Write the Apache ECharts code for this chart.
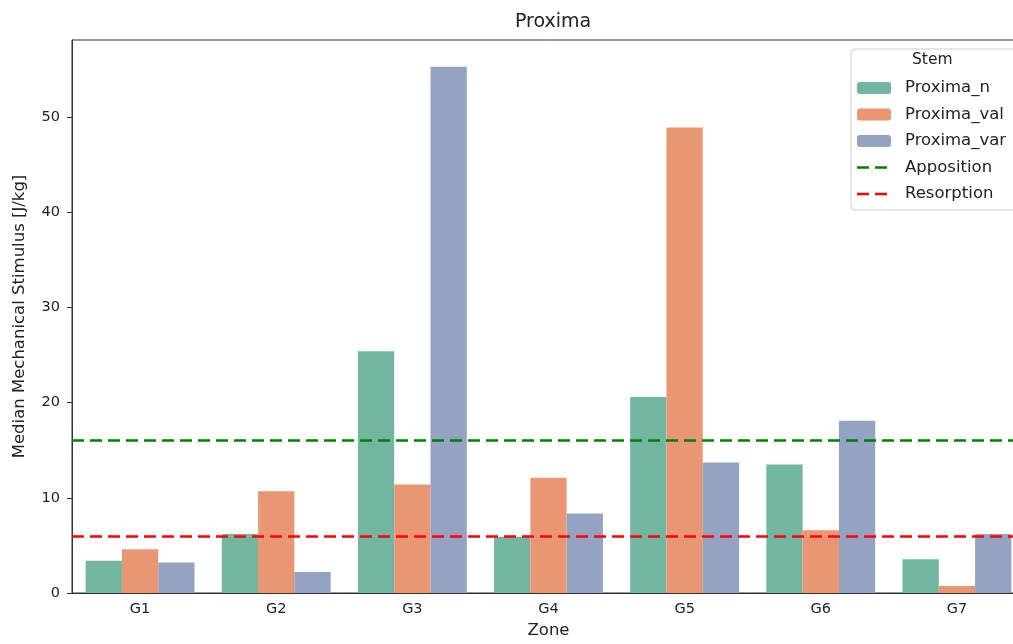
<!DOCTYPE html>
<html><head><meta charset="utf-8">
<script src="https://cdn.jsdelivr.net/npm/echarts@6/dist/echarts.min.js"></script>
<style>html,body{margin:0;padding:0;background:#fff;overflow:hidden;width:1013px;height:644px}#c{width:1025px;height:644px}</style>
</head><body><div id="c"></div>
<script>
const categories = ['G1','G2','G3','G4','G5','G6','G7'];
const proximaN   = [3.4, 6.2, 25.4, 5.9, 20.6, 13.5, 3.55];
const proximaVal = [4.6, 10.7, 11.4, 12.1, 48.9, 6.6, 0.73];
const proximaVar = [3.2, 2.2, 55.3, 8.35, 13.7, 18.1, 6.2];
const apposition = 16;
const resorption = 6;
const yTicks = [0, 10, 20, 30, 40, 50];
const noPoints = [null, null, null, null, null, null, null];

const font = 'DejaVu Sans';
const chart = echarts.init(document.getElementById('c'));
const barColors = ['#72b6a1', '#e99675', '#95a3c3'];
const dashIcon = 'path://M0,0h0.01v0.01h-0.01z M33.99,11.99h0.01v0.01h-0.01z M0,4.7h12v2.6h-12z M18,4.7h12v2.6h-12z';
function bar(name, data, color) {
  return { type: 'bar', name, data, barGap: '0%', barCategoryGap: '20%',
    itemStyle: { color }, silent: true };
}
function hline(name, value, color) {
  return { type: 'line', name, data: noPoints, symbol: 'none', showSymbol: false,
    lineStyle: { color, type: [12, 6], width: 2.5 }, itemStyle: { color },
    markLine: { symbol: 'none', silent: true, animation: false, label: { show: false },
      lineStyle: { color, type: [12, 6], width: 2.5 }, data: [{ yAxis: value }] } };
}
chart.setOption({
  animation: false,
  textStyle: { fontFamily: font },
  title: { text: 'Proxima', left: 548, top: 8, textAlign: 'center',
    textStyle: { fontFamily: font, fontSize: 19, fontWeight: 'normal', color: '#222' } },
  grid: { left: 72, top: 40, right: 0, bottom: 48, show: true, borderColor: '#333', borderWidth: 1, containLabel: false },
  xAxis: { type: 'category', data: categories, name: 'Zone', nameLocation: 'middle', nameGap: 29,
    nameTextStyle: { fontSize: 16.5, color: '#222', fontFamily: font },
    axisLine: { lineStyle: { color: '#333', width: 1 } },
    axisTick: { alignWithLabel: true, length: 5, lineStyle: { color: '#333' } },
    axisLabel: { fontSize: 14.5, color: '#222', margin: 9, fontFamily: font } },
  yAxis: { type: 'value', min: 0, max: 58.1, interval: 10, name: 'Median Mechanical Stimulus [J/kg]',
    nameLocation: 'middle', nameGap: 44, nameRotate: 90,
    nameTextStyle: { fontSize: 16.5, color: '#222', fontFamily: font },
    axisLine: { show: true, lineStyle: { color: '#333', width: 1 } },
    axisTick: { show: true, length: 5, lineStyle: { color: '#333' } },
    splitLine: { show: false },
    axisLabel: { fontSize: 14.5, color: '#222', margin: 12, showMaxLabel: false, fontFamily: font,
      formatter: v => yTicks.includes(v) ? String(v) : '' } },
  legend: { orient: 'vertical', left: 851, top: 49, itemWidth: 34, itemHeight: 12, itemGap: 6.5,
    padding: [29, 40, 6, 6], backgroundColor: '#fff', borderColor: '#cccccc', borderWidth: 1, borderRadius: 4,
    textStyle: { fontSize: 16.5, color: '#222', lineHeight: 20, padding: [0, 0, 0, 9], fontFamily: font },
    data: ['Proxima_n', 'Proxima_val', 'Proxima_var',
      { name: 'Apposition', icon: dashIcon }, { name: 'Resorption', icon: dashIcon }] },
  graphic: [{ type: 'text', left: 912, top: 52, z: 100,
    style: { text: 'Stem', fontSize: 15.5, fill: '#222', fontFamily: font } }],
  series: [
    bar('Proxima_n', proximaN, barColors[0]),
    bar('Proxima_val', proximaVal, barColors[1]),
    bar('Proxima_var', proximaVar, barColors[2]),
    hline('Apposition', apposition, '#008000'),
    hline('Resorption', resorption, '#ff0000')
  ]
});
</script></body></html>
